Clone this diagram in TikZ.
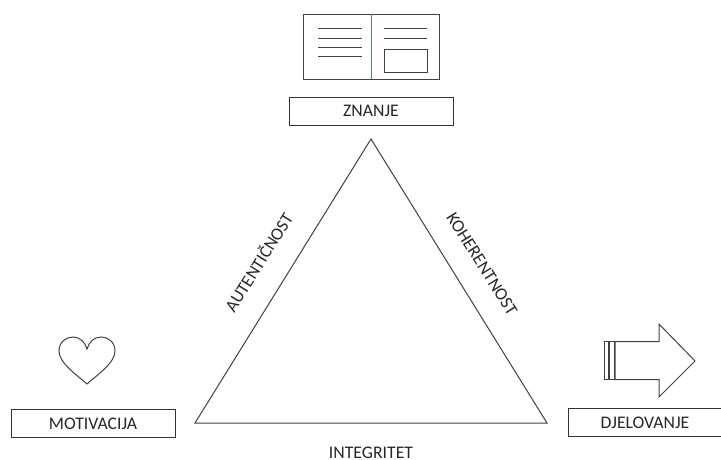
\documentclass[tikz,border=0pt]{standalone}
\usepackage{fontspec}
\setmainfont{Carlito}
\usepackage{tikz}
\usetikzlibrary{positioning}
\colorlet{mygray}{black!75}
\definecolor{myblue}{RGB}{80,120,190}
\tikzset{
  LBL/.style={draw=black!80,thick,minimum height=28pt,inner sep=0pt,outer sep=0pt,text=black!85,font=\fontsize{17.7}{19}\selectfont},
  SIDE/.style={font=\fontsize{17.7}{19}\selectfont,text=black!85,inner sep=0pt},
  LN/.style={draw=mygray,line width=1pt}
}
\begin{document}
\begin{tikzpicture}[x=1pt,y=-1pt]
\useasboundingbox (0,0) rectangle (721,459);

% triangle
\coordinate (top) at (371,139);
\coordinate (left) at (195,423);
\coordinate (right) at (547,423);
\draw[LN] (top) -- (left) -- (right) -- cycle;

% side labels
\node[SIDE,rotate=58] (aut) at (258,262) {AUTENTIČNOST};
\node[SIDE,rotate=-58] (koh) at (482,264) {KOHERENTNOST};
\node[SIDE] (integ) at (371,452.5) {INTEGRITET};

% boxes
\node[LBL,minimum width=164pt] (znanje) at (371,111) {ZNANJE};
\node[LBL,minimum width=164pt] (motiv) at (93,423.5) {MOTIVACIJA};
\node[LBL,minimum width=154pt] (djel) at (645,422.5) {DJELOVANJE};

% book
\draw[LN,thick] (303.5,14) rectangle (439,79);
\draw[draw=myblue,line width=.8pt] (371.5,14) -- (371.5,79);
\foreach \y in {28,38.5,47,56} \draw[LN] (318,\y) -- (362,\y);
\foreach \y in {28,38.5} \draw[LN] (384,\y) -- (427,\y);
\draw[LN,thick] (384.5,49) rectangle (427.5,72);

% heart
\draw[LN] (87,384) .. controls (77,375) and (59,363) .. (59,351)
  .. controls (59,342) and (66,337) .. (73,337)
  .. controls (80,337) and (85,342) .. (87,349)
  .. controls (89,342) and (94,337) .. (101,337)
  .. controls (108,337) and (115,342) .. (115,351)
  .. controls (115,363) and (97,375) .. (87,384);

% arrow
\draw[LN] (615,341.5) -- (659,341.5) -- (659,324) -- (695,361) -- (659,397) -- (659,379.5) -- (615,379.5) -- cycle;
\draw[LN] (604.5,341.5) rectangle (608,379.5);
\draw[LN] (609,341.5) rectangle (614.5,379.5);
\end{tikzpicture}
\end{document}
